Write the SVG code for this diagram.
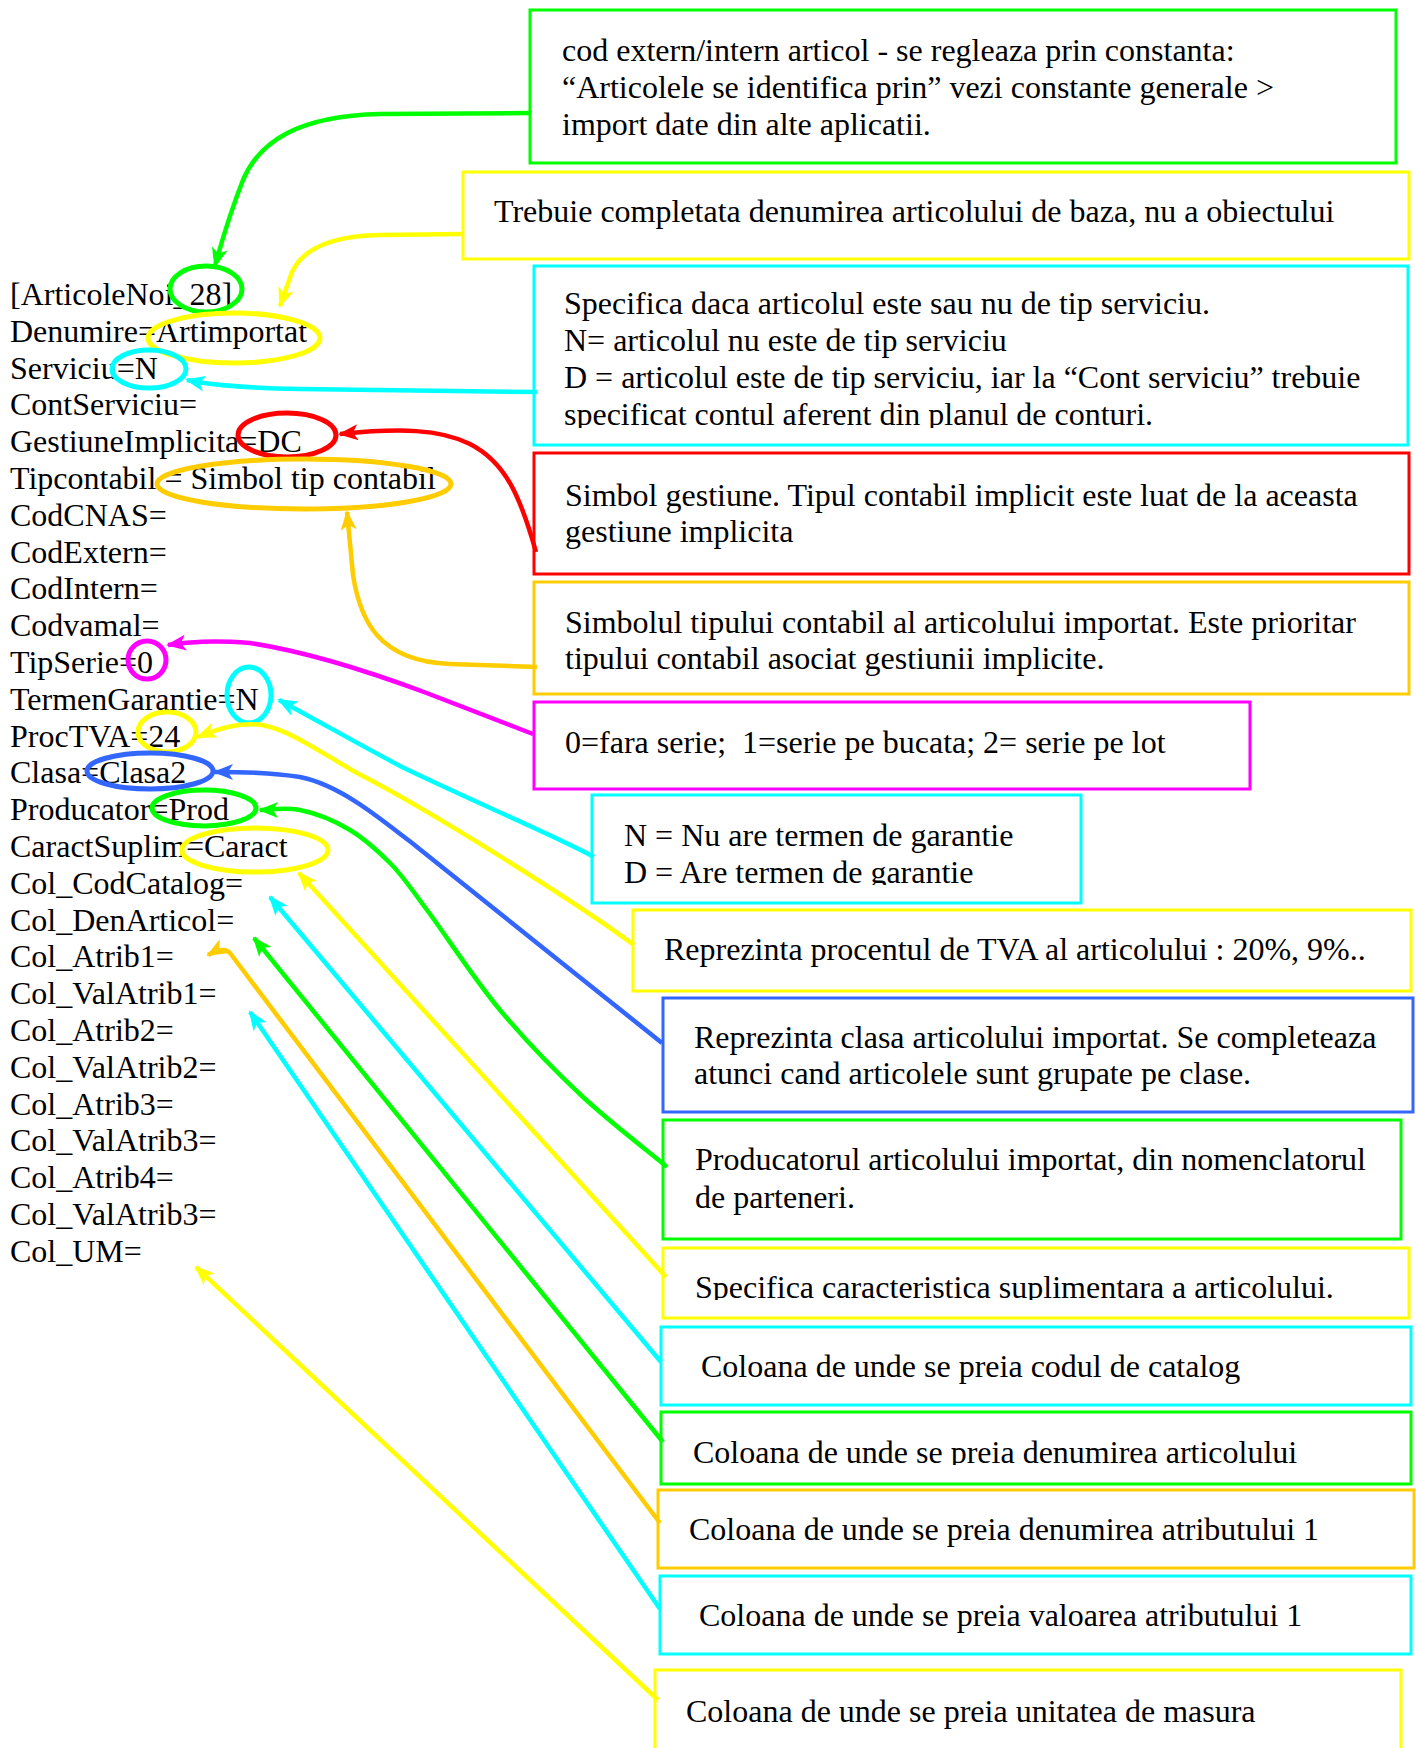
<svg xmlns="http://www.w3.org/2000/svg" width="1416" height="1748" viewBox="0 0 1416 1748">
<style>
text{font-family:"Liberation Serif","Times New Roman",serif;font-size:32px;fill:#000;white-space:pre}
.box{fill:none;stroke-width:3}
.hl{fill:none;stroke-width:5}
.con{fill:none;stroke-width:4.5;stroke-linejoin:round}
.g{stroke:#00FF00}.y{stroke:#FFFF00}.c{stroke:#00FFFF}.r{stroke:#FF0000}.o{stroke:#FFCC00}.m{stroke:#FF00FF}.b{stroke:#3366FF}
</style>
<defs>
<marker id="ah-g" viewBox="0 0 20 16" refX="18" refY="8" markerWidth="20" markerHeight="16" markerUnits="userSpaceOnUse" orient="auto"><path d="M0,0 L20,8 L0,16 L5,8 z" fill="#00FF00"/></marker>
<marker id="ah-y" viewBox="0 0 20 16" refX="18" refY="8" markerWidth="20" markerHeight="16" markerUnits="userSpaceOnUse" orient="auto"><path d="M0,0 L20,8 L0,16 L5,8 z" fill="#FFFF00"/></marker>
<marker id="ah-c" viewBox="0 0 20 16" refX="18" refY="8" markerWidth="20" markerHeight="16" markerUnits="userSpaceOnUse" orient="auto"><path d="M0,0 L20,8 L0,16 L5,8 z" fill="#00FFFF"/></marker>
<marker id="ah-r" viewBox="0 0 20 16" refX="18" refY="8" markerWidth="20" markerHeight="16" markerUnits="userSpaceOnUse" orient="auto"><path d="M0,0 L20,8 L0,16 L5,8 z" fill="#FF0000"/></marker>
<marker id="ah-o" viewBox="0 0 20 16" refX="18" refY="8" markerWidth="20" markerHeight="16" markerUnits="userSpaceOnUse" orient="auto"><path d="M0,0 L20,8 L0,16 L5,8 z" fill="#FFCC00"/></marker>
<marker id="ah-m" viewBox="0 0 20 16" refX="18" refY="8" markerWidth="20" markerHeight="16" markerUnits="userSpaceOnUse" orient="auto"><path d="M0,0 L20,8 L0,16 L5,8 z" fill="#FF00FF"/></marker>
<marker id="ah-b" viewBox="0 0 20 16" refX="18" refY="8" markerWidth="20" markerHeight="16" markerUnits="userSpaceOnUse" orient="auto"><path d="M0,0 L20,8 L0,16 L5,8 z" fill="#3366FF"/></marker>
<clipPath id="clip3"><rect x="534" y="266" width="874" height="162"/></clipPath>
<clipPath id="clip7"><rect x="592" y="795" width="489" height="90"/></clipPath>
<clipPath id="clip11"><rect x="663" y="1248" width="746" height="52"/></clipPath>
<clipPath id="clip13"><rect x="661" y="1412" width="750" height="53"/></clipPath>
</defs>

<g id="source-list">
<text x="10" y="305">[ArticoleNoi_28]</text>
<text x="10" y="341.8">Denumire=Artimportat</text>
<text x="10" y="378.6">Serviciu=N</text>
<text x="10" y="415.4">ContServiciu=</text>
<text x="10" y="452.2">GestiuneImplicita=DC</text>
<text x="10" y="489">Tipcontabil = Simbol tip contabil</text>
<text x="10" y="525.8">CodCNAS=</text>
<text x="10" y="562.6">CodExtern=</text>
<text x="10" y="599.4">CodIntern=</text>
<text x="10" y="636.2">Codvamal=</text>
<text x="10" y="673">TipSerie=0</text>
<text x="10" y="709.8">TermenGarantie=N</text>
<text x="10" y="746.6">ProcTVA=24</text>
<text x="10" y="783.4">Clasa=Clasa2</text>
<text x="10" y="820.2">Producator=Prod</text>
<text x="10" y="857">CaractSuplim=Caract</text>
<text x="10" y="893.8">Col_CodCatalog=</text>
<text x="10" y="930.6">Col_DenArticol=</text>
<text x="10" y="967.4">Col_Atrib1=</text>
<text x="10" y="1004.2">Col_ValAtrib1=</text>
<text x="10" y="1041">Col_Atrib2=</text>
<text x="10" y="1077.8">Col_ValAtrib2=</text>
<text x="10" y="1114.6">Col_Atrib3=</text>
<text x="10" y="1151.4">Col_ValAtrib3=</text>
<text x="10" y="1188.2">Col_Atrib4=</text>
<text x="10" y="1225">Col_ValAtrib3=</text>
<text x="10" y="1261.8">Col_UM=</text>
</g>

<g id="highlights">
<ellipse class="hl g" cx="206" cy="289" rx="36" ry="23"/>
<ellipse class="hl y" cx="234" cy="338" rx="86" ry="25"/>
<ellipse class="hl c" cx="149" cy="369" rx="37" ry="19"/>
<ellipse class="hl r" cx="287" cy="435" rx="49" ry="22"/>
<ellipse class="hl o" cx="304" cy="484" rx="147" ry="25"/>
<ellipse class="hl m" cx="147" cy="660" rx="19" ry="19"/>
<ellipse class="hl c" cx="249" cy="695" rx="22" ry="28"/>
<ellipse class="hl y" cx="167" cy="732" rx="29" ry="20"/>
<ellipse class="hl b" cx="150" cy="771" rx="63" ry="18"/>
<ellipse class="hl g" cx="204" cy="808" rx="52" ry="18"/>
<ellipse class="hl y" cx="255" cy="850" rx="73" ry="22"/>
</g>

<g id="n1"><rect class="box g" x="530" y="10" width="866" height="153"/>
<text x="562" y="61">cod extern/intern articol - se regleaza prin constanta:</text>
<text x="562" y="98">“Articolele se identifica prin” vezi constante generale &gt;</text>
<text x="562" y="135">import date din alte aplicatii.</text></g>

<g id="n2"><rect class="box y" x="463" y="172" width="946" height="87"/>
<text x="494" y="222">Trebuie completata denumirea articolului de baza, nu a obiectului</text></g>

<g id="n3"><rect class="box c" x="534" y="266" width="874" height="179"/>
<g clip-path="url(#clip3)">
<text x="564" y="314">Specifica daca articolul este sau nu de tip serviciu.</text>
<text x="564" y="351">N= articolul nu este de tip serviciu</text>
<text x="564" y="388">D = articolul este de tip serviciu, iar la “Cont serviciu” trebuie</text>
<text x="564" y="425">specificat contul aferent din planul de conturi.</text></g></g>

<g id="n4"><rect class="box r" x="534" y="453" width="875" height="121"/>
<text x="565" y="506">Simbol gestiune. Tipul contabil implicit este luat de la aceasta</text>
<text x="565" y="542">gestiune implicita</text></g>

<g id="n5"><rect class="box o" x="534" y="582" width="875" height="112"/>
<text x="565" y="633">Simbolul tipului contabil al articolului importat. Este prioritar</text>
<text x="565" y="669">tipului contabil asociat gestiunii implicite.</text></g>

<g id="n6"><rect class="box m" x="534" y="702" width="716" height="87"/>
<text x="565" y="753">0=fara serie;  1=serie pe bucata; 2= serie pe lot</text></g>

<g id="n7"><rect class="box c" x="592" y="795" width="489" height="108"/>
<g clip-path="url(#clip7)">
<text x="624" y="846">N = Nu are termen de garantie</text>
<text x="624" y="883">D = Are termen de garantie</text></g></g>

<g id="n8"><rect class="box y" x="633" y="910" width="778" height="81"/>
<text x="664" y="960">Reprezinta procentul de TVA al articolului : 20%, 9%..</text></g>

<g id="n9"><rect class="box b" x="663" y="998" width="750" height="114"/>
<text x="694" y="1048">Reprezinta clasa articolului importat. Se completeaza</text>
<text x="694" y="1084">atunci cand articolele sunt grupate pe clase.</text></g>

<g id="n10"><rect class="box g" x="663" y="1120" width="738" height="119"/>
<text x="695" y="1170">Producatorul articolului importat, din nomenclatorul</text>
<text x="695" y="1208">de parteneri.</text></g>

<g id="n11"><rect class="box y" x="663" y="1248" width="746" height="70"/>
<g clip-path="url(#clip11)"><text x="695" y="1298">Specifica caracteristica suplimentara a articolului.</text></g></g>

<g id="n12"><rect class="box c" x="661" y="1327" width="750" height="78"/>
<text x="701" y="1377">Coloana de unde se preia codul de catalog</text></g>

<g id="n13"><rect class="box g" x="661" y="1412" width="750" height="72"/>
<g clip-path="url(#clip13)"><text x="693" y="1463">Coloana de unde se preia denumirea articolului</text></g></g>

<g id="n14"><rect class="box o" x="658" y="1490" width="756" height="78"/>
<text x="689" y="1540">Coloana de unde se preia denumirea atributului 1</text></g>

<g id="n15"><rect class="box c" x="660" y="1576" width="751" height="78"/>
<text x="699" y="1626">Coloana de unde se preia valoarea atributului 1</text></g>

<g id="n16"><rect class="box y" x="655" y="1670" width="746" height="90"/>
<text x="686" y="1722">Coloana de unde se preia unitatea de masura</text></g>

<g id="connectors">
<path class="con g" marker-end="url(#ah-g)" d="M530,113 L380,114 C300,116 260,140 243,180 C232,208 222,240 215,266"/>
<path class="con y" marker-end="url(#ah-y)" d="M463,234 L380,235 C320,236 300,255 292,272 L280,306"/>
<path class="con c" marker-end="url(#ah-c)" d="M537,392 L300,389 C250,388 215,386 187,380"/>
<path class="con r" marker-end="url(#ah-r)" d="M536,552 C520,495 505,462 470,444 C440,429 400,428 340,434"/>
<path class="con o" marker-end="url(#ah-o)" d="M537,667 L450,664 C378,661 360,620 353,575 L347,512"/>
<path class="con m" marker-end="url(#ah-m)" d="M533,734 L424,692 C370,672 310,652 250,643 C210,640 190,642 168,645"/>
<path class="con c" marker-end="url(#ah-c)" d="M594,857 C560,838 470,800 402,767 C360,745 320,722 279,700"/>
<path class="con y" marker-end="url(#ah-y)" d="M634,945 C580,905 430,810 357,773 C320,752 290,730 262,725 C240,722 220,728 198,737"/>
<path class="con b" marker-end="url(#ah-b)" d="M662,1043 L417,847 C380,818 340,785 300,777 C270,772 240,772 215,772"/>
<path class="con g" marker-end="url(#ah-g)" d="M667,1167 C653,1155 611,1123 583,1097 C555,1071 526,1041 500,1010 C474,979 445,934 427,910 C409,886 403,876 390,863 C377,850 365,839 350,830 C335,821 315,813 300,810 C285,807 267,810 260,810"/>
<path class="con y" marker-end="url(#ah-y)" d="M666,1277 L299,873"/>
<path class="con c" marker-end="url(#ah-c)" d="M661,1362 L270,897"/>
<path class="con g" marker-end="url(#ah-g)" d="M663,1442 L254,938"/>
<path class="con o" marker-end="url(#ah-o)" d="M660,1523 L230,953 Q224,946 208,955"/>
<path class="con c" marker-end="url(#ah-c)" d="M660,1609 L250,1012"/>
<path class="con y" marker-end="url(#ah-y)" d="M658,1700 L196,1267"/>
</g>
</svg>
